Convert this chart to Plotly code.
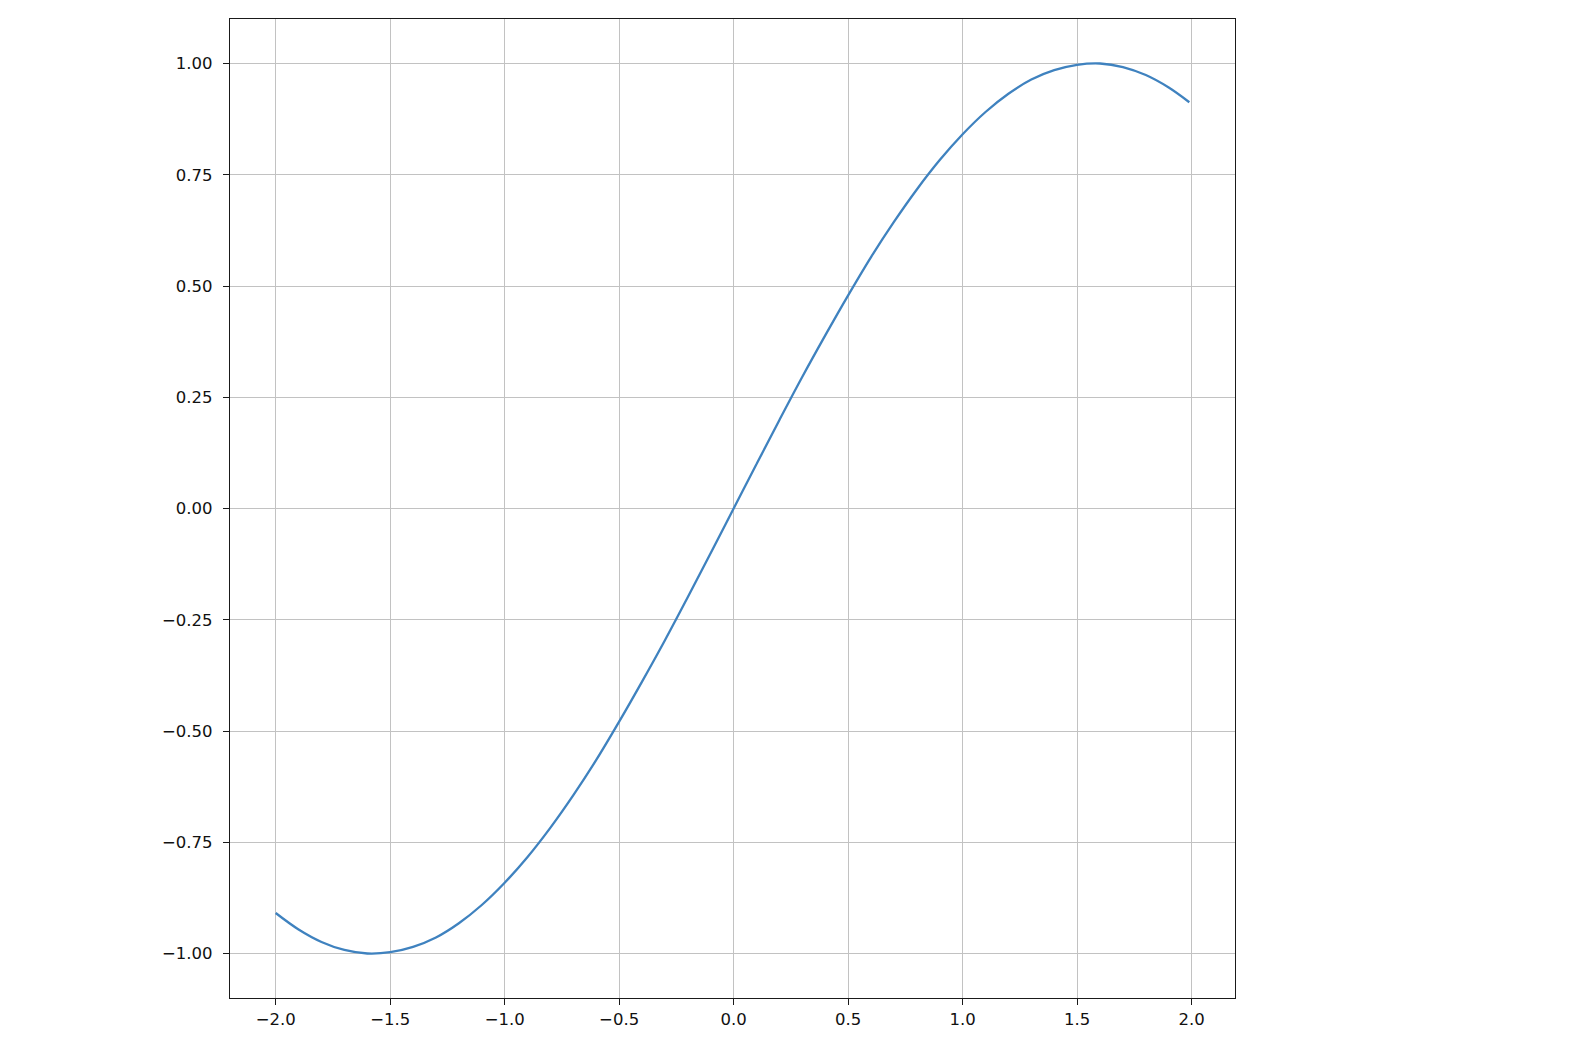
import plotly.graph_objects as go

# Data
x_vals = [-2.0, -1.9, -1.8, -1.7, -1.6, -1.5, -1.4, -1.3, -1.2, -1.1, -1.0,
          -0.9, -0.8, -0.7, -0.6, -0.5, -0.4, -0.3, -0.2, -0.1, 0.0,
          0.1, 0.2, 0.3, 0.4, 0.5, 0.6, 0.7, 0.8, 0.9, 1.0,
          1.1, 1.2, 1.3, 1.4, 1.5, 1.6, 1.7, 1.8, 1.9, 1.99]
y_vals = [-0.909, -0.946, -0.974, -0.992, -1.000, -0.997, -0.985, -0.964, -0.932, -0.891, -0.841,
          -0.783, -0.717, -0.644, -0.565, -0.479, -0.389, -0.296, -0.199, -0.100, 0.000,
          0.100, 0.199, 0.296, 0.389, 0.479, 0.565, 0.644, 0.717, 0.783, 0.841,
          0.891, 0.932, 0.964, 0.985, 0.997, 1.000, 0.992, 0.974, 0.946, 0.913]

x_ticks = [-2.0, -1.5, -1.0, -0.5, 0.0, 0.5, 1.0, 1.5, 2.0]
x_tick_labels = ["\u22122.0", "\u22121.5", "\u22121.0", "\u22120.5", "0.0", "0.5", "1.0", "1.5", "2.0"]
y_ticks = [-1.0, -0.75, -0.5, -0.25, 0.0, 0.25, 0.5, 0.75, 1.0]
y_tick_labels = ["\u22121.00", "\u22120.75", "\u22120.50", "\u22120.25", "0.00", "0.25", "0.50", "0.75", "1.00"]

fig = go.Figure()
fig.add_trace(go.Scatter(
    x=x_vals, y=y_vals, mode="lines",
    line=dict(color="#3f82bf", width=2.3, shape="spline", smoothing=1.0),
    showlegend=False, hoverinfo="skip",
))

axis_common = dict(
    showgrid=True, gridcolor="#c2c2c2", gridwidth=1.1,
    zeroline=False,
    showline=True, linecolor="#1a1a1a", linewidth=1.2, mirror=True,
    ticks="outside", ticklen=6, tickwidth=1.2, tickcolor="#1a1a1a",
    tickfont=dict(family="DejaVu Sans", size=16.5, color="#111111"),
)

fig.update_layout(
    width=1576, height=1060,
    margin=dict(l=222, r=349, t=11, b=70, pad=0),
    paper_bgcolor="white", plot_bgcolor="white",
    xaxis=dict(range=[-2.1995, 2.1895], tickvals=x_ticks, ticktext=x_tick_labels,
               ticklabelstandoff=0, **axis_common),
    yaxis=dict(range=[-1.1, 1.1], tickvals=y_ticks, ticktext=y_tick_labels,
               ticklabelstandoff=7, **axis_common),
)

fig.write_html("out.html")
